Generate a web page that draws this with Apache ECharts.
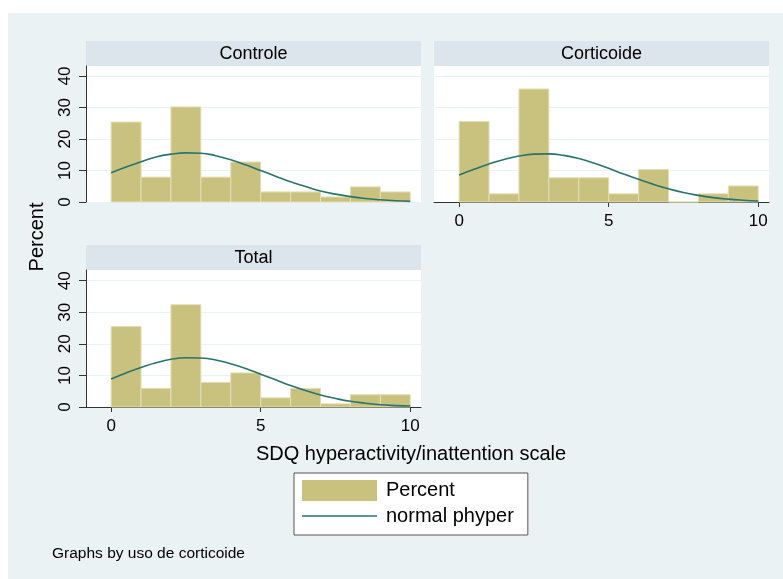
<!DOCTYPE html>
<html>
<head>
<meta charset="utf-8">
<script src="https://cdn.jsdelivr.net/npm/echarts@6/dist/echarts.min.js"></script>
<style>
  html, body { margin: 0; padding: 0; background: #fff; }
  #container { width: 783px; height: 579px; }
</style>
</head>
<body>
<div id="container"></div>
<script>
var dom = document.getElementById("container");
var myChart = echarts.init(dom);
var option;

// histogram bins (width 1) and percent per bin
var binStarts = [0, 1, 2, 3, 4, 5, 6, 7, 8, 9];
var controleBars = [25.4, 7.9, 30.2, 7.9, 12.7, 3.2, 3.2, 1.6, 4.8, 3.2];
var corticoideBars = [25.6, 2.6, 35.9, 7.7, 7.7, 2.6, 10.3, 0, 2.6, 5.1];
var totalBars = [25.5, 5.9, 32.4, 7.8, 10.8, 2.9, 5.9, 1.0, 3.9, 3.9];

// normal overlay
var curveX = [0, 0.5, 1, 1.5, 2, 2.5, 3, 3.5, 4, 4.5, 5, 5.5, 6, 6.5, 7, 7.5, 8, 8.5, 9, 9.5, 10];
var controleCurve = [9.3, 11.1, 12.8, 14.3, 15.2, 15.6, 15.5, 14.7, 13.4, 11.8, 10.0, 8.2, 6.4, 4.9, 3.5, 2.5, 1.7, 1.1, 0.7, 0.4, 0.2];
var corticoideCurve = [8.6, 10.4, 12.1, 13.5, 14.6, 15.2, 15.3, 14.8, 13.8, 12.4, 10.7, 8.9, 7.2, 5.6, 4.2, 3.0, 2.1, 1.4, 0.9, 0.55, 0.3];
var totalCurve = [8.9, 10.8, 12.5, 14.0, 15.1, 15.6, 15.5, 14.9, 13.7, 12.2, 10.4, 8.6, 6.8, 5.2, 3.8, 2.7, 1.8, 1.2, 0.7, 0.45, 0.3];

var yTicks = [0, 10, 20, 30, 40];
var xTicks = [0, 5, 10];
var panelNames = ["Controle", "Corticoide", "Total"];

var barColor = "#c9c27f";
var lineColor = "#2a736d";
var font = "Liberation Sans, Arial, Helvetica, sans-serif";

function binData(vals) {
    return binStarts.map(function (s, i) {
        return [s, s + 1, vals[i]];
    });
}

function curveData(vals) {
    return curveX.map(function (x, i) {
        return [x, vals[i]];
    });
}

function renderBin(params, api) {
    var p0 = api.coord([api.value(0), api.value(2)]);
    var p1 = api.coord([api.value(1), 0]);
    return {
        type: "rect",
        shape: { x: p0[0], y: p0[1], width: p1[0] - p0[0], height: p1[1] - p0[1] },
        style: { fill: barColor, stroke: "#e3deb5", lineWidth: 1 },
    };
}

function header(x, y, w, text) {
    return {
        type: "group",
        children: [
            { type: "rect", shape: { x: x, y: y, width: w, height: 25 }, style: { fill: "#dbe5eb" } },
            {
                type: "text",
                x: x + w / 2,
                y: y + 13,
                style: { text: text, font: "18px " + font, fill: "#000", align: "center", verticalAlign: "middle" },
            },
        ],
    };
}

var xBase = {
    type: "value",
    min: -0.84,
    max: 10.36,
    splitLine: { show: false },
};

function xAxisShown(gridIndex) {
    return Object.assign({}, xBase, {
        gridIndex: gridIndex,
        axisLine: { show: true, onZero: false, lineStyle: { color: "#333", width: 1 } },
        axisTick: { show: true, length: 5, customValues: xTicks, lineStyle: { color: "#333" } },
        axisLabel: { show: true, customValues: xTicks, color: "#000", fontSize: 17, fontFamily: font, margin: 11 },
    });
}

function yAxisDef(gridIndex, max, showAxis) {
    return {
        type: "value",
        gridIndex: gridIndex,
        min: 0,
        max: max,
        axisLine: { show: showAxis, onZero: false, lineStyle: { color: "#333", width: 1 } },
        axisTick: { show: showAxis, length: 7, customValues: yTicks, lineStyle: { color: "#333" } },
        axisLabel: {
            show: showAxis,
            customValues: yTicks,
            rotate: 90,
            color: "#000",
            fontSize: 17,
            fontFamily: font,
            margin: 12,
        },
        splitLine: { show: true, lineStyle: { color: "#eaf2f3", width: 1 } },
    };
}

option = {
    backgroundColor: "#fff",
    animation: false,
    grid: [
        { left: 86, top: 66, width: 335, height: 136, show: true, backgroundColor: "#fff", borderWidth: 0 },
        { left: 434, top: 66, width: 335, height: 136, show: true, backgroundColor: "#fff", borderWidth: 0 },
        { left: 86, top: 270, width: 335, height: 137, show: true, backgroundColor: "#fff", borderWidth: 0 },
    ],
    xAxis: [
        Object.assign({}, xBase, {
            gridIndex: 0,
            axisLine: { show: false },
            axisTick: { show: false },
            axisLabel: { show: false },
        }),
        xAxisShown(1),
        xAxisShown(2),
    ],
    yAxis: [yAxisDef(0, 43.2, true), yAxisDef(1, 43.2, false), yAxisDef(2, 43.4, true)],
    legend: {
        left: 294,
        top: 473,
        orient: "vertical",
        backgroundColor: "#fff",
        borderColor: "#555",
        borderWidth: 1,
        padding: [7, 14, 9, 8],
        itemWidth: 75,
        itemHeight: 21,
        itemGap: 5,
        textStyle: { color: "#000", fontSize: 20, fontFamily: font, padding: [0, 0, 0, 4] },
        data: [
            { name: "Percent", icon: "rect" },
            { name: "normal phyper", icon: "path://M0,0L75,0L75,1.6L0,1.6Z" },
        ],
    },
    graphic: [
        { type: "rect", z: -100, shape: { x: 8, y: 13, width: 775, height: 566 }, style: { fill: "#eaf2f3" } },
        header(86, 41, 335, panelNames[0]),
        header(434, 41, 335, panelNames[1]),
        header(86, 245, 335, panelNames[2]),
        {
            type: "text",
            x: 37,
            y: 237,
            rotation: Math.PI / 2,
            style: { text: "Percent", font: "20px " + font, fill: "#000", align: "center", verticalAlign: "middle" },
        },
        {
            type: "text",
            x: 411,
            y: 454,
            style: {
                text: "SDQ hyperactivity/inattention scale",
                font: "20px " + font,
                fill: "#000",
                align: "center",
                verticalAlign: "middle",
            },
        },
        {
            type: "text",
            x: 52,
            y: 554,
            style: { text: "Graphs by uso de corticoide", font: "15.5px " + font, fill: "#000", verticalAlign: "middle" },
        },
    ],
    series: [
        { name: "Percent", type: "custom", xAxisIndex: 0, yAxisIndex: 0, renderItem: renderBin, itemStyle: { color: barColor }, data: binData(controleBars) },
        { name: "Percent", type: "custom", xAxisIndex: 1, yAxisIndex: 1, renderItem: renderBin, itemStyle: { color: barColor }, data: binData(corticoideBars) },
        { name: "Percent", type: "custom", xAxisIndex: 2, yAxisIndex: 2, renderItem: renderBin, itemStyle: { color: barColor }, data: binData(totalBars) },
        { name: "normal phyper", type: "line", xAxisIndex: 0, yAxisIndex: 0, smooth: true, symbol: "none", lineStyle: { color: lineColor, width: 1.6 }, itemStyle: { color: lineColor }, data: curveData(controleCurve) },
        { name: "normal phyper", type: "line", xAxisIndex: 1, yAxisIndex: 1, smooth: true, symbol: "none", lineStyle: { color: lineColor, width: 1.6 }, itemStyle: { color: lineColor }, data: curveData(corticoideCurve) },
        { name: "normal phyper", type: "line", xAxisIndex: 2, yAxisIndex: 2, smooth: true, symbol: "none", lineStyle: { color: lineColor, width: 1.6 }, itemStyle: { color: lineColor }, data: curveData(totalCurve) },
    ],
};

if (option && typeof option === "object") {
    myChart.setOption(option);
}
</script>
</body>
</html>
